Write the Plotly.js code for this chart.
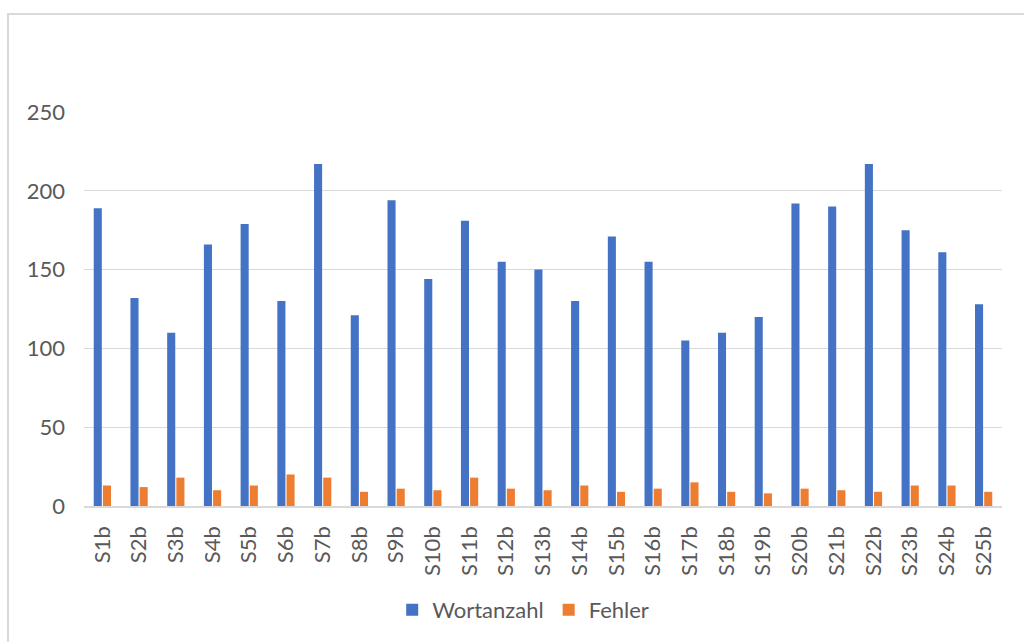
<!DOCTYPE html>
<html>
<head>
<meta charset="utf-8">
<script src="https://cdn.plot.ly/plotly-3.0.1.min.js"></script>
<style>
  html, body { margin: 0; padding: 0; background: #fff; }
  #chart { width: 1024px; height: 642px; }
  /* Rahmen des Diagrammbereichs (nur oben und links sichtbar) */
  #frame {
    position: absolute; left: 7px; top: 13px; width: 1100px; height: 700px;
    border-left: 2px solid #d9d9d9; border-top: 2px solid #d9d9d9;
    pointer-events: none;
  }
</style>
</head>
<body>
<div id="chart"></div>
<div id="frame"></div>
<script>
// Daten
var labels = ['S1b', 'S2b', 'S3b', 'S4b', 'S5b', 'S6b', 'S7b', 'S8b', 'S9b', 'S10b',
              'S11b', 'S12b', 'S13b', 'S14b', 'S15b', 'S16b', 'S17b', 'S18b', 'S19b', 'S20b',
              'S21b', 'S22b', 'S23b', 'S24b', 'S25b'];
var wortanzahl = [189, 132, 110, 166, 179, 130, 217, 121, 194, 144,
                  181, 155, 150, 130, 171, 155, 105, 110, 120, 192,
                  190, 217, 175, 161, 128];
var fehler = [13, 12, 18, 10, 13, 20, 18, 9, 11, 10,
              18, 11, 10, 13, 9, 11, 15, 9, 8, 11,
              10, 9, 13, 13, 9];
var yTicks = [0, 50, 100, 150, 200, 250];

var textColor = '#595959';
var gridColor = '#d9d9d9';
var fontFam = 'Lato, "Open Sans", sans-serif';

var traces = [
  {
    type: 'bar', name: 'Wortanzahl', x: labels, y: wortanzahl,
    marker: { color: '#4472C4' }
  },
  {
    type: 'bar', name: 'Fehler', x: labels, y: fehler,
    marker: { color: '#ED7D31' }
  }
];

var layout = {
  width: 1024, height: 642,
  paper_bgcolor: '#fff', plot_bgcolor: '#fff',
  margin: { l: 84, r: 22, t: 112, b: 136 },
  font: { family: fontFam, size: 22, color: textColor },
  barmode: 'group',
  bargap: 0.5,
  bargroupgap: 0.12,
  showlegend: true,
  legend: {
    orientation: 'h',
    xref: 'container', yref: 'container',
    x: 0.383, xanchor: 'left',
    y: 0.05, yanchor: 'middle',
    font: { family: fontFam, size: 22, color: textColor },
    bgcolor: 'rgba(0,0,0,0)'
  },
  xaxis: {
    type: 'category',
    tickangle: -90,
    ticks: '',
    ticklabelstandoff: 10,
    showgrid: false,
    showline: true, linecolor: gridColor, linewidth: 1.5,
    tickfont: { family: fontFam, size: 22, color: textColor }
  },
  yaxis: {
    range: [0, 250],
    tickvals: yTicks,
    ticktext: yTicks.map(String),
    ticks: '',
    ticklabelstandoff: 18,
    showgrid: true, gridcolor: gridColor, gridwidth: 1.3,
    zeroline: false,
    showline: false,
    tickfont: { family: fontFam, size: 22, color: textColor }
  }
};

Plotly.newPlot('chart', traces, layout, { displayModeBar: false, staticPlot: true });
</script>
</body>
</html>
